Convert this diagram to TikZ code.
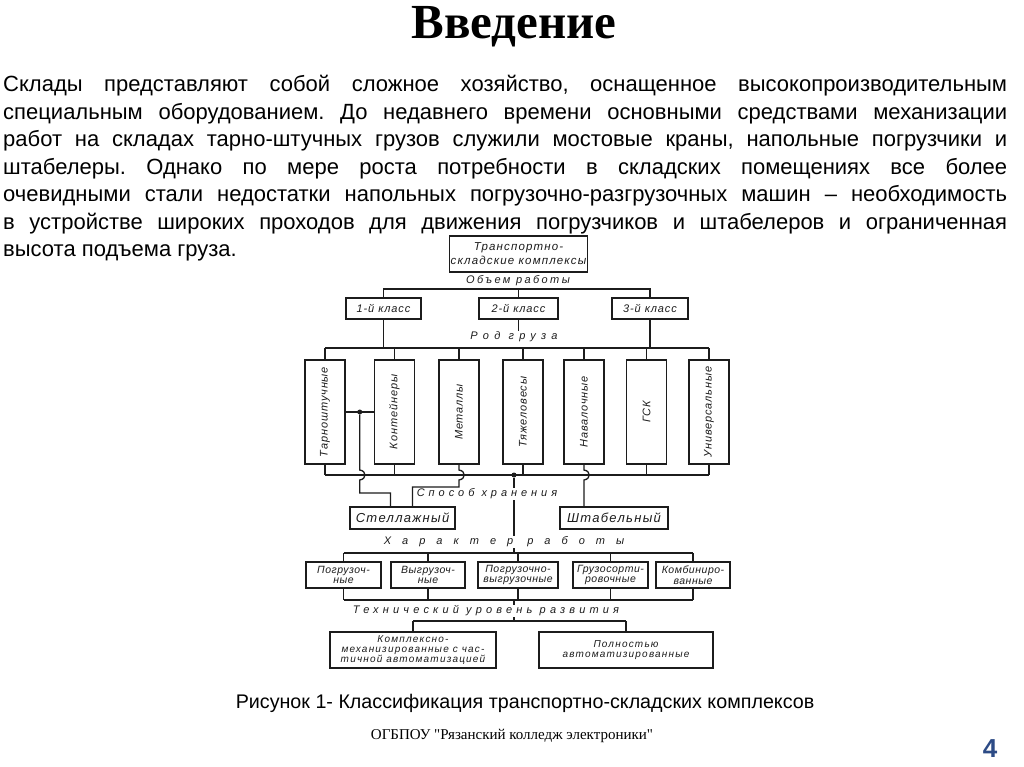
\documentclass[tikz,border=0pt]{standalone}
\usepackage{fontspec}
\usepackage{graphicx}
\usepackage{tikz}
\usetikzlibrary{positioning, calc}
\setmainfont{Liberation Sans}
\newfontfamily\headfont{Liberation Serif}
\newfontfamily\gostfont{Liberation Sans}
\definecolor{cInk}     {HTML}{1C1C1C}
\definecolor{cPageNum} {HTML}{2D4B86}
\tikzset{
  gbox/.style={draw=cInk, line width=1.3pt, inner sep=1pt, align=center, text=cInk,
               font=\gostfont\itshape\fontsize{11}{10.5}\selectfont\addfontfeature{LetterSpace=8}},
  cargobox/.style={gbox, minimum width=40pt, minimum height=104pt},
  lvl/.style={inner sep=1pt, text=cInk,
              font=\gostfont\itshape\fontsize{11}{11}\selectfont\addfontfeature{LetterSpace=#1}},
  wire/.style={draw=cInk, line width=1.3pt},
  jdot/.style={circle, fill=cInk, inner sep=0pt, minimum size=5pt},
}

\begin{document}
\begin{tikzpicture}[x=1pt, y=-1pt]
  \fill[white] (0,0) rectangle (1024,767);
  \useasboundingbox (0,0) rectangle (1024,767);

  \node[font=\headfont\bfseries\fontsize{49}{49}\selectfont, anchor=base] (title) at (514,39) {Введение};
  \node[anchor=north west, inner sep=0pt, text width=1004pt, align=justify,
        font=\fontsize{22}{27.5}\selectfont\frenchspacing] (intro) at (3,75)
       {Склады представляют собой сложное хозяйство, оснащенное высокопроизводительным\linebreak
        специальным оборудованием. До недавнего времени основными средствами механизации\linebreak
        работ на складах тарно-штучных грузов служили мостовые краны, напольные погрузчики и\linebreak
        штабелеры. Однако по мере роста потребности в складских помещениях все более\linebreak
        очевидными стали недостатки напольных погрузочно-разгрузочных машин – необходимость\linebreak
        в устройстве широких проходов для движения погрузчиков и штабелеров и ограниченная\linebreak
        высота подъема груза.};

  \node[gbox, minimum width=131pt, minimum height=36pt,
        font=\gostfont\itshape\fontsize{11.5}{14}\selectfont\addfontfeature{LetterSpace=10}]
       (tsk) at (518.5,254) {Транспортно-\\складские комплексы};
  \node[lvl=22] (lv1) at (518,281) {Объем работы};
  \node[gbox, minimum width=75pt, minimum height=21pt] (cl1) at (383.5,308.5) {1-й класс};
  \node[gbox, minimum width=79pt, minimum height=21pt] (cl2) at (518.5,308.5) {2-й класс};
  \node[gbox, minimum width=76pt, minimum height=21pt] (cl3) at (650,308.5) {3-й класс};
  \node[lvl=48] (lv2) at (514,337) {Род груза};
  \foreach \nm/\cx/\txt in {k1/325/Тарноштучные, k2/394.5/Контейнеры, k3/459/Металлы,
                            k4/523/Тяжеловесы, k5/584/Навалочные, k6/646.5/ГСК, k7/709/Универсальные}
    \node[cargobox] (\nm) at (\cx,412) {\rotatebox{90}{\txt}};
  \node[lvl=36] (lv3) at (487,494) {Способ хранения};
  \node[gbox, minimum width=105pt, minimum height=22pt,
        font=\gostfont\itshape\fontsize{13}{13}\selectfont\addfontfeature{LetterSpace=10}]
       (st1) at (402.5,518) {Стеллажный};
  \node[gbox, minimum width=108pt, minimum height=22pt,
        font=\gostfont\itshape\fontsize{13}{13}\selectfont\addfontfeature{LetterSpace=10}]
       (st2) at (614,518) {Штабельный};
  \node[lvl=100] (lv4) at (504,542) {Характер работы};
  \foreach \nm/\cx/\bw/\txt in {w1/343.5/75/Погрузоч-\\ные, w2/428/74/Выгрузоч-\\ные,
                                w3/518/80/Погрузочно-\\выгрузочные, w4/610.5/75/Грузосорти-\\ровочные,
                                w5/693/74/Комбиниро-\\ванные}
    \node[gbox, minimum width=\bw pt, minimum height=26pt,
          font=\gostfont\itshape\fontsize{10.5}{10.5}\selectfont\addfontfeature{LetterSpace=5}]
         (\nm) at (\cx,575) {\txt};
  \node[lvl=38] (lv5) at (486,611) {Технический уровень развития};
  \node[gbox, minimum width=166pt, minimum height=36pt,
        font=\gostfont\itshape\fontsize{10}{9.8}\selectfont\addfontfeature{LetterSpace=12}]
       (tc1) at (413,650) {Комплексно-\\механизированные с час-\\тичной автоматизацией};
  \node[gbox, minimum width=174pt, minimum height=36pt,
        font=\gostfont\itshape\fontsize{10}{9.8}\selectfont\addfontfeature{LetterSpace=12}]
       (tc2) at (626,650) {Полностью\\автоматизированные};

  \coordinate (bus1) at (0,289);
  \coordinate (bus2) at (0,348);
  \coordinate (bus3) at (0,475);
  \coordinate (bus4) at (0,553);
  \coordinate (bus5) at (0,600);
  \coordinate (bus6) at (0,621);
  \coordinate (spine) at (514,0);

  \draw[wire] (cl1.north) -- (cl1.north |- bus1) -- (cl3.north |- bus1) -- (cl3.north);
  \draw[wire] (cl2.north) -- (cl2.north |- bus1);
  \draw[wire] (cl2.south) -- (cl2.south |- lv2.north);
  \draw[wire] (cl1.south) -- (cl1.south |- bus2);
  \draw[wire] (cl3.south) -- (cl3.south |- bus2);
  \draw[wire] (k1.north |- bus2) -- (k7.north |- bus2);
  \foreach \k in {k1,k2,k3,k4,k5,k6,k7}
    \draw[wire] (\k.north) -- (\k.north |- bus2);

  \draw[wire] (k1.east) -- (k2.west);
  \node[jdot] (d1) at ($(k1.east)!0.5!(k2.west)$) {};
  \coordinate (h1) at (d1 |- bus3);
  \coordinate (h2) at (k3.south |- bus3);
  \coordinate (h3) at (k5.south |- bus3);
  \draw[wire] (k1.south |- bus3) -- (k7.south |- bus3);
  \foreach \k in {k1,k2,k4,k6,k7}
    \draw[wire] (\k.south) -- (\k.south |- bus3);
  \draw[wire] (d1) -- ([yshift=5pt]h1)
        .. controls ([shift={(7pt,4pt)}]h1) and ([shift={(7pt,-4pt)}]h1) .. ([yshift=-5pt]h1)
        -- ([yshift=-18pt]h1) -| ([xshift=-12pt]st1.north);
  \draw[wire] (k3.south) -- ([yshift=5pt]h2)
        .. controls ([shift={(7pt,4pt)}]h2) and ([shift={(7pt,-4pt)}]h2) .. ([yshift=-5pt]h2)
        -- ([yshift=-12pt]h2) -| ([xshift=10pt]st1.north);
  \draw[wire] (k5.south) -- ([yshift=5pt]h3)
        .. controls ([shift={(7pt,4pt)}]h3) and ([shift={(7pt,-4pt)}]h3) .. ([yshift=-5pt]h3)
        -- (h3 |- st2.north);

  \node[jdot] (d2) at (spine |- bus3) {};
  \draw[wire] (d2) -- (d2 |- lv3.north);
  \draw[wire] (d2 |- lv3.south) -- (d2 |- lv4.north);
  \draw[wire] (d2 |- lv4.south) -- (d2 |- bus4);
  \draw[wire] (w1.north |- bus4) -- (w5.north |- bus4);
  \draw[wire] (w1.south |- bus5) -- (w5.south |- bus5);
  \foreach \w in {w1,w2,w3,w4,w5} {
    \draw[wire] (\w.north) -- (\w.north |- bus4);
    \draw[wire] (\w.south) -- (\w.south |- bus5);
  }
  \draw[wire] (d2 |- bus5) -- (d2 |- lv5.north);
  \draw[wire] (d2 |- lv5.south) -- (d2 |- bus6);
  \draw[wire] (tc1.north |- bus6) -- (tc2.north |- bus6);
  \draw[wire] (tc1.north) -- (tc1.north |- bus6);
  \draw[wire] (tc2.north) -- (tc2.north |- bus6);

  \node[font=\fontsize{19.7}{19.7}\selectfont, anchor=base] (caption) at (525,708)
       {Рисунок 1- Классификация транспортно-складских комплексов};
  \node[font=\headfont\fontsize{15}{15}\selectfont, anchor=base] (college) at (512,739)
       {ОГБПОУ "Рязанский колледж электроники"};
  \node[font=\bfseries\fontsize{26}{26}\selectfont, text=cPageNum, anchor=base] (pagenum) at (990,757) {4};
\end{tikzpicture}
\end{document}
